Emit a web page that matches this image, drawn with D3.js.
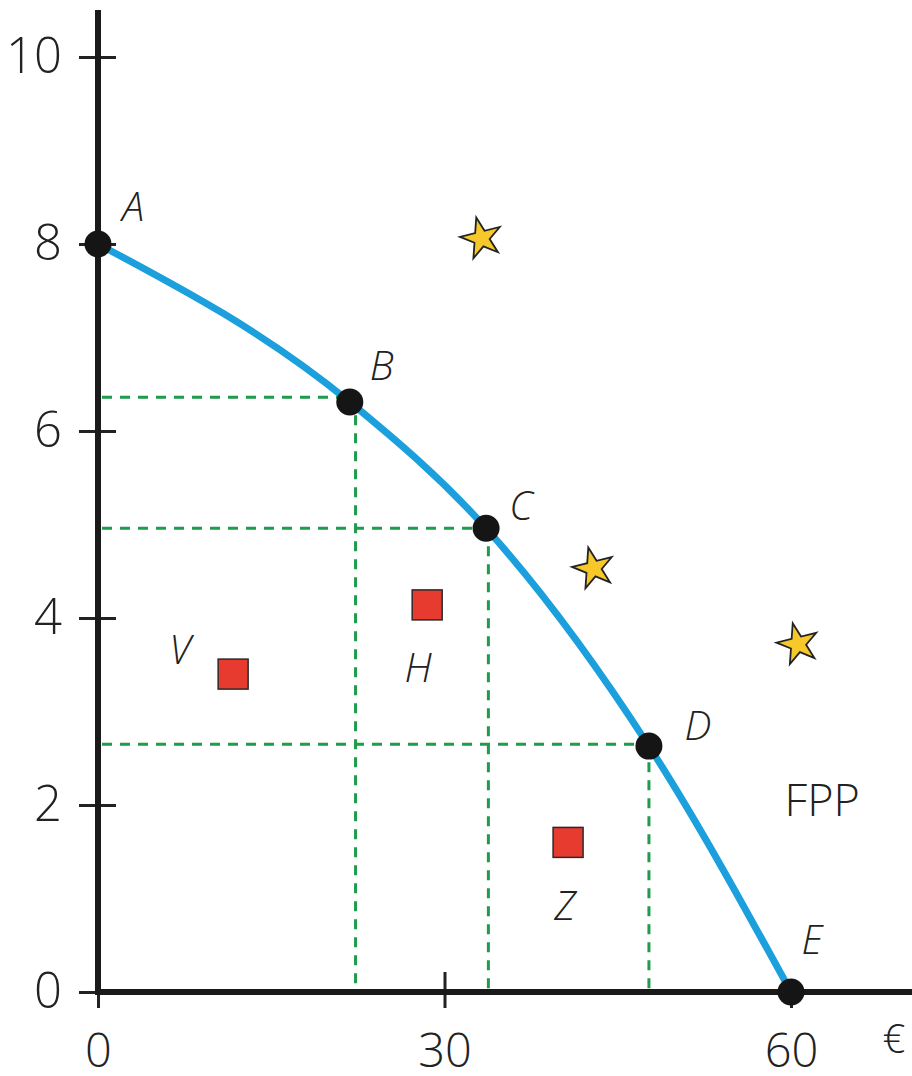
<!DOCTYPE html>
<html>
<head>
<meta charset="utf-8">
<script src="https://cdn.jsdelivr.net/npm/d3@7"></script>
<style>
  body { margin: 0; background: #fff; }
  svg { display: block; font-family: "Open Sans", sans-serif; }
</style>
</head>
<body>
<script>
// frontier points (x = euros, y = units)
var pointNames = ["A", "B", "C", "D", "E"]
var pointX = [0, 21.8, 33.6, 47.7, 60]
var pointY = [8, 6.31, 4.96, 2.63, 0]

// dashed guide lines
var guideX = [22.3, 33.8, 47.7]
var guideY = [6.36, 4.96, 2.65]

// points inside the frontier (squares) and outside (stars)
var insideNames = ["V", "H", "Z"]
var insideX = [11.7, 28.5, 40.7]
var insideY = [3.40, 4.14, 1.60]
var outsideX = [33.2, 42.9, 60.6]
var outsideY = [8.06, 4.53, 3.72]

var xTicks = [0, 30, 60]
var yTicks = [0, 2, 4, 6, 8, 10]

var width = 912, height = 1076

var x = d3.scaleLinear().domain([0, 60]).range([98, 791])
var y = d3.scaleLinear().domain([0, 10]).range([992, 57])

var svg = d3.select("body").append("svg")
  .attr("width", width)
  .attr("height", height)

// ---- axes ----
var yAxis = d3.axisLeft(y).tickValues(yTicks).tickSize(19).tickPadding(17)
var gy = svg.append("g")
  .attr("transform", "translate(" + x(0) + ",0)")
  .call(yAxis)
  .attr("font-family", null).attr("font-size", null)
gy.select(".domain").remove()
gy.selectAll(".tick line")
  .attr("x1", d => d === 0 ? 0 : 18)
  .attr("stroke", "#222").attr("stroke-width", 3)
gy.selectAll(".tick text")
  .attr("fill", "#222").style("font-size", "49px").style("font-weight", 350)

var xAxis = d3.axisBottom(x).tickValues(xTicks).tickSize(16).tickPadding(26)
var gx = svg.append("g")
  .attr("transform", "translate(0," + y(0) + ")")
  .call(xAxis)
  .attr("font-family", null).attr("font-size", null)
gx.select(".domain").remove()
gx.selectAll(".tick line")
  .attr("y1", d => d === 30 ? -20 : 0)
  .attr("stroke", "#222").attr("stroke-width", 3)
gx.selectAll(".tick text")
  .attr("fill", "#222").style("font-size", "47px").style("font-weight", 350)

// thick axis lines
svg.append("line")
  .attr("x1", x(0)).attr("x2", x(0))
  .attr("y1", 10).attr("y2", y(0) + 3)
  .attr("stroke", "#1a1a1a").attr("stroke-width", 6)
svg.append("line")
  .attr("x1", x(0) - 3).attr("x2", width)
  .attr("y1", y(0)).attr("y2", y(0))
  .attr("stroke", "#1a1a1a").attr("stroke-width", 6)

svg.append("text")
  .attr("x", 894).attr("y", 1053)
  .attr("text-anchor", "middle")
  .attr("fill", "#222")
  .style("font-size", "40px").style("font-weight", 350)
  .text("€")

// ---- dashed guides ----
var guides = svg.append("g")
  .attr("stroke", "#1e9b4b").attr("stroke-width", 3)
  .attr("stroke-dasharray", "10,8").attr("fill", "none")
guideY.forEach(function(v, i) {
  guides.append("line")
    .attr("x1", x(0) + 4).attr("x2", x(guideX[i]))
    .attr("y1", y(v)).attr("y2", y(v))
  guides.append("line")
    .attr("x1", x(guideX[i])).attr("x2", x(guideX[i]))
    .attr("y1", y(v)).attr("y2", y(0) - 3)
})

// ---- frontier curve ----
var pts = pointX.map((v, i) => ({x: v, y: pointY[i], name: pointNames[i]}))
var line = d3.line()
  .x(d => x(d.x)).y(d => y(d.y))
  .curve(d3.curveMonotoneX)
svg.append("path")
  .datum(pts)
  .attr("d", line)
  .attr("fill", "none")
  .attr("stroke", "#1ba0dd")
  .attr("stroke-width", 7)

svg.selectAll("circle.pt")
  .data(pts)
  .enter().append("circle")
  .attr("class", "pt")
  .attr("cx", d => x(d.x)).attr("cy", d => y(d.y))
  .attr("r", 13.5)
  .attr("fill", "#151515")

// label offsets from each point
var ptOffset = {A: [35, -23], B: [32, -22], C: [35, -8], D: [49, -6], E: [21, -38]}
svg.selectAll("text.ptlab")
  .data(pts)
  .enter().append("text")
  .attr("class", "ptlab")
  .attr("x", d => x(d.x) + ptOffset[d.name][0])
  .attr("y", d => y(d.y) + ptOffset[d.name][1])
  .attr("text-anchor", "middle")
  .attr("fill", "#222")
  .style("font-size", "40px").style("font-style", "italic").style("font-weight", 350)
  .text(d => d.name)

// ---- squares ----
var inside = insideX.map((v, i) => ({x: v, y: insideY[i], name: insideNames[i]}))
svg.selectAll("rect.in")
  .data(inside)
  .enter().append("rect")
  .attr("class", "in")
  .attr("x", d => x(d.x) - 15).attr("y", d => y(d.y) - 15)
  .attr("width", 30).attr("height", 30)
  .attr("fill", "#e63b2e")
  .attr("stroke", "#2a2a2a").attr("stroke-width", 1.5)

var inOffset = {V: [-53, -10], H: [-9, 77], Z: [-3, 78]}
svg.selectAll("text.inlab")
  .data(inside)
  .enter().append("text")
  .attr("class", "inlab")
  .attr("x", d => x(d.x) + inOffset[d.name][0])
  .attr("y", d => y(d.y) + inOffset[d.name][1])
  .attr("text-anchor", "middle")
  .attr("fill", "#222")
  .style("font-size", "40px").style("font-style", "italic").style("font-weight", 350)
  .text(d => d.name)

// ---- stars ----
var star = d3.symbol().type(d3.symbolStar).size(520)
svg.selectAll("path.star")
  .data(outsideX.map((v, i) => ({x: v, y: outsideY[i]})))
  .enter().append("path")
  .attr("class", "star")
  .attr("d", star)
  .attr("transform", d => "translate(" + x(d.x) + "," + y(d.y) + ") rotate(-14)")
  .attr("fill", "#f6c82a")
  .attr("stroke", "#222").attr("stroke-width", 1.8)
  .attr("stroke-linejoin", "miter")

svg.append("text")
  .attr("x", x(62.7)).attr("y", y(2.05) + 16)
  .attr("text-anchor", "middle")
  .attr("fill", "#222")
  .style("font-size", "45px").style("font-weight", 350)
  .text("FPP")
</script>
</body>
</html>
